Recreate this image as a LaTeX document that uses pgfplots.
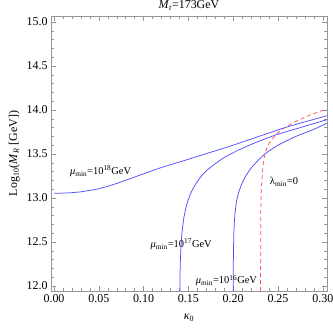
\documentclass[border=0pt]{standalone}
\usepackage{pgfplots}
\pgfplotsset{compat=1.18}
\usepackage{fontspec}
\setmainfont{Liberation Serif}
\definecolor{bl}{RGB}{80,80,255}
\definecolor{rd}{RGB}{255,85,85}
\definecolor{fr}{RGB}{150,150,150}
\begin{document}
\begin{tikzpicture}
\begin{axis}[
  scale only axis, width=276bp, height=275bp,
  xmin=-0.00335, xmax=0.3047, ymin=11.943, ymax=15.068,
  xtick={0,0.05,0.1,0.15,0.2,0.25,0.3},
  ytick={12,12.5,13,13.5,14,14.5,15},
  minor x tick num=4, minor y tick num=4,
  tick align=inside, major tick length=5bp, minor tick length=3bp,
  axis line style={fr}, every tick/.style={fr},
  tick label style={font=\fontsize{12}{14}\selectfont, black},
  /pgf/number format/assume math mode=true,
  xticklabel style={/pgf/number format/.cd, fixed, fixed zerofill, precision=2},
  yticklabel style={/pgf/number format/.cd, fixed, fixed zerofill, precision=1},
  title={\fontsize{12}{14}\selectfont\textit{M}\textsubscript{\textit{t}}=173GeV},
  title style={yshift=-4bp},
  xlabel={\fontsize{12}{14}\selectfont\textit{κ}\textsubscript{0}},
  ylabel={\fontsize{12}{14}\selectfont Log\textsubscript{10}(\textit{M}\textsubscript{\textit{R}} [GeV])},
  xlabel style={at={(axis description cs:0.5,0)}, anchor=center, inner sep=0pt, yshift=-27bp},
  clip=true,
]
\addplot[bl, line width=0.75bp, smooth, tension=0.3] coordinates {
(0,13.053)(0.015,13.057)(0.03,13.07)(0.05,13.105)(0.07,13.165)(0.096,13.26)(0.118,13.34)(0.15,13.44)(0.175,13.52)(0.2,13.6)(0.2578,13.80)(0.3047,13.935)};
\addplot[bl, line width=0.75bp, smooth, tension=0.3] coordinates {
(0.1405,11.943)(0.1408,12.2)(0.1415,12.4)(0.1428,12.6)(0.145,12.78)(0.148,12.92)(0.152,13.04)(0.157,13.14)(0.163,13.23)(0.17,13.31)(0.18,13.39)(0.19,13.46)(0.205,13.54)(0.225,13.63)(0.2485,13.72)(0.275,13.80)(0.3047,13.89)};
\addplot[bl, line width=0.75bp, smooth, tension=0.3] coordinates {
(0.2,11.943)(0.2002,12.3)(0.2007,12.6)(0.2018,12.8)(0.2035,12.95)(0.206,13.06)(0.2095,13.16)(0.214,13.25)(0.22,13.34)(0.228,13.43)(0.2366,13.51)(0.25,13.6)(0.27,13.7)(0.29,13.78)(0.3047,13.85)};
\addplot[rd, line width=0.75bp, dash pattern=on 4bp off 3bp, smooth, tension=0.3] coordinates {
(0.2305,11.943)(0.2307,12.5)(0.231,13.0)(0.232,13.2)(0.2335,13.38)(0.2355,13.5)(0.239,13.6)(0.2445,13.68)(0.2485,13.73)(0.2578,13.80)(0.27,13.87)(0.285,13.94)(0.3,13.995)(0.3047,14.01)};
\node[font=\fontsize{10.5}{12}\selectfont, inner sep=0pt] at (axis cs:0.052,13.30) {\textit{μ}\textsubscript{min}=10\textsuperscript{18}GeV};
\node[font=\fontsize{10.5}{12}\selectfont, inner sep=0pt] at (axis cs:0.142,12.47) {\textit{μ}\textsubscript{min}=10\textsuperscript{17}GeV};
\node[font=\fontsize{10.5}{12}\selectfont, inner sep=0pt] at (axis cs:0.1925,12.06) {\textit{μ}\textsubscript{min}=10\textsuperscript{16}GeV};
\node[font=\fontsize{10.5}{12}\selectfont, inner sep=0pt] at (axis cs:0.2567,13.185) {λ\textsubscript{min}=0};
\end{axis}
\pgfresetboundingbox
\useasboundingbox (current axis.south west) ++(-51bp,-40bp) rectangle ++(333bp,331bp);
\end{tikzpicture}
\end{document}
